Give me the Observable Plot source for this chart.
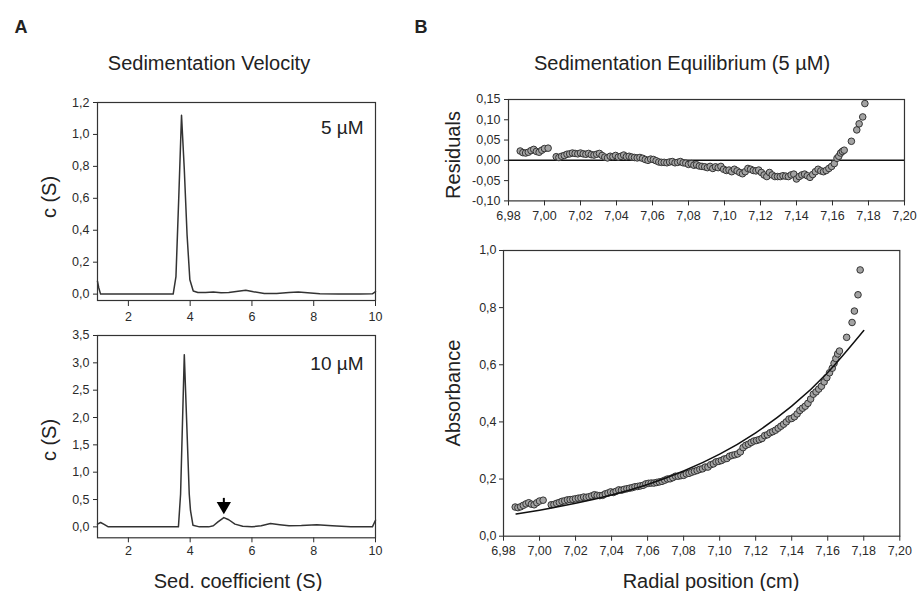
<!DOCTYPE html>
<html>
<head>
<meta charset="utf-8">
<script src="https://cdn.jsdelivr.net/npm/d3@7"></script>
<script src="https://cdn.jsdelivr.net/npm/@observablehq/plot@0.6"></script>
<style>
  html, body { margin: 0; padding: 0; background: #fff; }
  body { width: 918px; height: 591px; position: relative; overflow: hidden; font-family: "Liberation Sans", Arial, sans-serif; color: #222; }
  .abs { position: absolute; }
  .lbl { position: absolute; white-space: nowrap; transform: translate(-50%, -50%); }
  .rot { transform: translate(-50%, -50%) rotate(-90deg); }
  svg g[aria-label*="axis"], svg g[aria-label*="axis"] text { font-size: 12.5px !important; font-family: "Liberation Sans", Arial, sans-serif !important; }
  svg g[aria-label*="axis"] text { fill: #2a2a2a; }
</style>
</head>
<body>
<script>
// ---------- Panel A: sedimentation velocity c(S) ----------
const sedS5 = [1.00, 1.04, 1.10, 3.45, 3.54, 3.63, 3.72, 3.81, 3.90, 3.99, 4.10, 4.25, 4.50, 4.75, 5.00, 5.25, 5.55, 5.80, 6.05, 6.40, 6.80, 7.20, 7.50, 7.80, 8.20, 8.80, 9.50, 9.90, 10.00];
const cS5   = [0.08, 0.04, 0.00, 0.00, 0.11, 0.60, 1.12, 0.78, 0.37, 0.09, 0.02, 0.01, 0.01, 0.013, 0.009, 0.010, 0.018, 0.024, 0.015, 0.004, 0.004, 0.010, 0.013, 0.009, 0.003, 0.001, 0.000, 0.002, 0.015];

const sedS10 = [1.00, 1.10, 1.20, 1.35, 3.62, 3.69, 3.81, 3.97, 4.01, 4.09, 4.30, 4.60, 4.75, 4.90, 5.09, 5.25, 5.45, 5.70, 6.00, 6.30, 6.60, 6.90, 7.20, 7.60, 8.10, 8.60, 9.20, 9.90, 10.00];
const cS10   = [0.05, 0.08, 0.05, 0.00, 0.00, 0.60, 3.15, 0.60, 0.30, 0.03, 0.00, 0.00, 0.02, 0.09, 0.17, 0.13, 0.05, 0.01, 0.00, 0.02, 0.06, 0.04, 0.02, 0.025, 0.04, 0.02, 0.00, 0.00, 0.12];

const sedTicks = [2, 4, 6, 8, 10];
const c5Ticks = [0, 0.2, 0.4, 0.6, 0.8, 1.0, 1.2];
const c10Ticks = [0, 0.5, 1.0, 1.5, 2.0, 2.5, 3.0, 3.5];
// arrow marking the small peak (x position, shaft top, head centre)
const arrowMark = [{s: 5.09, top: 0.53, head: 0.38}];

// ---------- Panel B: sedimentation equilibrium ----------
const radial = [
  6.9865, 6.9880, 6.9895, 6.9910, 6.9925, 6.9940, 6.9955, 6.9970, 6.9985, 7.0000, 7.0020,
  7.0065, 7.0080, 7.0095, 7.0110, 7.0125, 7.0140, 7.0155, 7.0170, 7.0185, 7.0200,
  7.0215, 7.0230, 7.0245, 7.0260, 7.0275, 7.0290, 7.0305, 7.0320, 7.0335, 7.0350,
  7.0365, 7.0380, 7.0395, 7.0410, 7.0425, 7.0440, 7.0455, 7.0470, 7.0485, 7.0500,
  7.0515, 7.0530, 7.0545, 7.0560, 7.0575, 7.0590, 7.0605, 7.0620, 7.0635, 7.0650,
  7.0665, 7.0680, 7.0695, 7.0710, 7.0725, 7.0740, 7.0755, 7.0770, 7.0785, 7.0800,
  7.0815, 7.0830, 7.0845, 7.0860, 7.0875, 7.0890, 7.0905, 7.0920, 7.0935, 7.0950,
  7.0965, 7.0980, 7.0995, 7.1010, 7.1025, 7.1040, 7.1055, 7.1070, 7.1085, 7.1100,
  7.1115, 7.1130, 7.1145, 7.1160, 7.1175, 7.1190, 7.1205, 7.1220, 7.1235, 7.1250,
  7.1265, 7.1280, 7.1295, 7.1310, 7.1325, 7.1340, 7.1355, 7.1370, 7.1385, 7.1400,
  7.1415, 7.1430, 7.1445, 7.1460, 7.1475, 7.1490, 7.1505, 7.1520, 7.1535, 7.1550,
  7.1565, 7.1580, 7.1595, 7.1610, 7.1625, 7.1635, 7.1645, 7.1655, 7.1665, 7.1705,
  7.1735, 7.1748, 7.1768, 7.1780
];
const residuals = [
  0.023, 0.019, 0.018, 0.020, 0.024, 0.027, 0.022, 0.020, 0.025, 0.029, 0.030,
  0.009, 0.007, 0.010, 0.012, 0.015, 0.016, 0.018, 0.017, 0.016, 0.018,
  0.016, 0.015, 0.017, 0.014, 0.013, 0.015, 0.017, 0.012, 0.008, 0.006,
  0.010, 0.009, 0.012, 0.008, 0.010, 0.013, 0.009, 0.010, 0.008, 0.007,
  0.006, 0.007, 0.005, 0.002, 0.000, 0.003, 0.002, -0.001, -0.004, -0.005,
  -0.005, -0.006, -0.004, -0.003, -0.006, -0.005, -0.003, -0.006, -0.007, -0.010,
  -0.008, -0.012, -0.011, -0.014, -0.015, -0.016, -0.018, -0.015, -0.020, -0.016,
  -0.018, -0.015, -0.022, -0.025, -0.024, -0.028, -0.022, -0.026, -0.030, -0.033,
  -0.028, -0.020, -0.022, -0.025, -0.026, -0.024, -0.030, -0.036, -0.040, -0.030,
  -0.036, -0.040, -0.040, -0.040, -0.038, -0.039, -0.040, -0.036, -0.034, -0.046,
  -0.040, -0.036, -0.034, -0.038, -0.042, -0.035, -0.028, -0.022, -0.026, -0.028,
  -0.025, -0.020, -0.015, -0.008, 0.005, 0.010, 0.018, 0.022, 0.025, 0.047,
  0.075, 0.090, 0.107, 0.140
];
const absorbance = [
  0.102, 0.100, 0.103, 0.108, 0.113, 0.117, 0.112, 0.110, 0.117, 0.123, 0.126,
  0.110, 0.111, 0.115, 0.118, 0.122, 0.124, 0.127, 0.128, 0.129, 0.131,
  0.133, 0.134, 0.137, 0.136, 0.138, 0.141, 0.145, 0.143, 0.142, 0.143,
  0.148, 0.151, 0.155, 0.153, 0.157, 0.162, 0.161, 0.164, 0.166, 0.168,
  0.170, 0.173, 0.174, 0.176, 0.178, 0.183, 0.185, 0.186, 0.186, 0.188,
  0.190, 0.192, 0.196, 0.200, 0.201, 0.205, 0.210, 0.210, 0.212, 0.213,
  0.218, 0.220, 0.224, 0.227, 0.230, 0.234, 0.236, 0.242, 0.242, 0.250,
  0.253, 0.260, 0.262, 0.265, 0.270, 0.272, 0.280, 0.283, 0.285, 0.288,
  0.295, 0.310, 0.318, 0.322, 0.328, 0.333, 0.335, 0.338, 0.342, 0.352,
  0.355, 0.362, 0.366, 0.371, 0.378, 0.385, 0.392, 0.400, 0.410, 0.412,
  0.418, 0.428, 0.440, 0.448, 0.455, 0.465, 0.480, 0.497, 0.505, 0.515,
  0.525, 0.540, 0.555, 0.572, 0.588, 0.605, 0.622, 0.638, 0.648, 0.696,
  0.748, 0.788, 0.845, 0.932
];
const fitRadial = [6.987, 7.000, 7.020, 7.040, 7.060, 7.080, 7.100, 7.120, 7.140, 7.160, 7.180];
const fitAbs    = [0.078, 0.091, 0.115, 0.144, 0.181, 0.228, 0.287, 0.362, 0.455, 0.573, 0.720];

const radialTicks = [6.98, 7.00, 7.02, 7.04, 7.06, 7.08, 7.10, 7.12, 7.14, 7.16, 7.18, 7.20];
const residTicks = [-0.10, -0.05, 0.00, 0.05, 0.10, 0.15];
const absTicks = [0, 0.2, 0.4, 0.6, 0.8, 1.0];

// ---------- helpers ----------
const comma = (digits) => (d) => d3.format(`.${digits}f`)(d).replace(".", ",").replace("\u2212", "-");
const baseStyle = {fontFamily: "'Liberation Sans', Arial, sans-serif", fontSize: "12.5px", color: "#2a2a2a", background: "transparent", overflow: "visible"};

function place(svg, left, top) {
  const div = document.createElement("div");
  div.className = "abs";
  div.style.left = left + "px";
  div.style.top = top + "px";
  div.appendChild(svg);
  document.body.appendChild(div);
}
function label(text, cx, cy, size, opts = {}) {
  const d = document.createElement("div");
  d.className = "lbl" + (opts.rotate ? " rot" : "");
  d.style.left = cx + "px";
  d.style.top = cy + "px";
  d.style.fontSize = size + "px";
  if (opts.bold) d.style.fontWeight = "bold";
  d.textContent = text;
  document.body.appendChild(d);
}

const sed5 = sedS5.map((s, i) => ({s, c: cS5[i]}));
const sed10 = sedS10.map((s, i) => ({s, c: cS10[i]}));
const eq = radial.map((r, i) => ({r, res: residuals[i], a: absorbance[i]}));
const fit = fitRadial.map((r, i) => ({r, a: fitAbs[i]}));

// ---------- Panel A, 5 µM ----------
place(Plot.plot({
  width: 328, height: 233, marginLeft: 40, marginTop: 10, marginRight: 10, marginBottom: 25,
  style: baseStyle,
  x: {domain: [1, 10], ticks: sedTicks, tickFormat: d => String(d), tickSize: 6, tickPadding: 6, label: null},
  y: {domain: [-0.04, 1.2], ticks: c5Ticks, tickFormat: comma(1), tickSize: 4, tickPadding: 4, label: null},
  marks: [
    Plot.frame({stroke: "#333", strokeWidth: 1.2}),
    Plot.line(sed5, {x: "s", y: "c", stroke: "#333", strokeWidth: 1.5}),
    Plot.text(["5 \u00b5M"], {frameAnchor: "top-right", text: d => d, dx: -12, dy: 25, fontSize: 19, textAnchor: "end", lineAnchor: "middle", fill: "#222"})
  ]
}), 57, 91.7);

// ---------- Panel A, 10 µM ----------
place(Plot.plot({
  width: 328, height: 237.3, marginLeft: 40, marginTop: 10, marginRight: 10, marginBottom: 25,
  style: baseStyle,
  x: {domain: [1, 10], ticks: sedTicks, tickFormat: d => String(d), tickSize: 5, tickPadding: 3, label: null},
  y: {domain: [-0.2, 3.5], ticks: c10Ticks, tickFormat: comma(1), tickSize: 4, tickPadding: 4, label: null},
  marks: [
    Plot.frame({stroke: "#333", strokeWidth: 1.2}),
    Plot.line(sed10, {x: "s", y: "c", stroke: "#333", strokeWidth: 1.5}),
    Plot.link(arrowMark, {x1: "s", x2: "s", y1: "top", y2: "head", stroke: "#000", strokeWidth: 2}),
    Plot.dot(arrowMark, {x: "s", y: "head", symbol: "triangle", rotate: 180, r: 5.3, fill: "#000", stroke: "none"}),
    Plot.text(["10 \u00b5M"], {frameAnchor: "top-right", text: d => d, dx: -12, dy: 28, fontSize: 19, textAnchor: "end", lineAnchor: "middle", fill: "#222"})
  ]
}), 57, 325);

// ---------- Panel B, residuals ----------
place(Plot.plot({
  width: 453, height: 131.4, marginLeft: 45, marginTop: 5, marginRight: 12, marginBottom: 25,
  style: baseStyle,
  x: {domain: [6.98, 7.20], ticks: radialTicks, tickFormat: comma(2), tickSize: 5, tickPadding: 5, label: null},
  y: {domain: [-0.10, 0.15], ticks: residTicks, tickFormat: comma(2), tickSize: 4, tickPadding: 4, label: null},
  marks: [
    Plot.frame({stroke: "#333", strokeWidth: 1.2}),
    Plot.ruleY([0], {stroke: "#111", strokeWidth: 1.5}),
    Plot.dot(eq, {x: "r", y: "res", r: 3.3, fill: "#a3a3a3", stroke: "#333", strokeWidth: 1})
  ]
}), 463, 94.3);

// ---------- Panel B, absorbance ----------
place(Plot.plot({
  width: 450.3, height: 320.7, marginLeft: 40, marginTop: 10, marginRight: 14, marginBottom: 25,
  style: baseStyle,
  x: {domain: [6.98, 7.20], ticks: radialTicks, tickFormat: comma(2), tickSize: 5, tickPadding: 5, label: null},
  y: {domain: [0, 1], ticks: absTicks, tickFormat: comma(1), tickSize: 4, tickPadding: 3, label: null},
  marks: [
    Plot.frame({stroke: "#333", strokeWidth: 1.2}),
    Plot.dot(eq, {x: "r", y: "a", r: 3.3, fill: "#a3a3a3", stroke: "#333", strokeWidth: 1}),
    Plot.line(fit, {x: "r", y: "a", stroke: "#111", strokeWidth: 1.5, curve: "natural"})
  ]
}), 462.7, 240);

// ---------- text ----------
label("A", 21, 27, 18, {bold: true});
label("B", 421, 27, 18, {bold: true});
label("Sedimentation Velocity", 209, 63, 20);
label("Sedimentation Equilibrium (5 \u00b5M)", 682, 63, 20);
label("c (S)", 49, 197, 20, {rotate: true});
label("c (S)", 49, 440, 20, {rotate: true});
label("Sed. coefficient (S)", 238, 581, 20);
label("Residuals", 453, 155, 20, {rotate: true});
label("Absorbance", 453, 393, 20, {rotate: true});
label("Radial position (cm)", 711, 581, 20);
</script>
</body>
</html>
